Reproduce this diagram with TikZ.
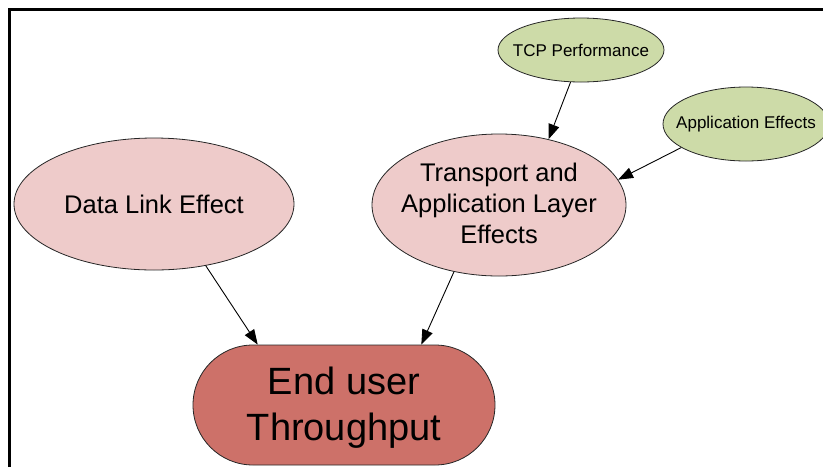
\documentclass[tikz,border=0pt]{standalone}
\usepackage{fontspec}
\setmainfont{Liberation Sans}
\usetikzlibrary{shapes.geometric,arrows.meta}
\definecolor{pinkfill}{HTML}{EECBCA}
\definecolor{greenfill}{HTML}{CDDBA8}
\definecolor{redfill}{HTML}{CD7169}
\tikzset{
  effect/.style={ellipse, draw=black!85, line width=0.8pt, fill=pinkfill, inner sep=0pt},
  cause/.style={ellipse, draw=black!85, line width=0.8pt, fill=greenfill, inner sep=0pt},
  bigtext/.style={align=center, inner sep=0pt, font=\fontsize{25.5}{31}\selectfont},
  smalltext/.style={align=center, inner sep=0pt, font=\fontsize{17}{20}\selectfont},
  hugetext/.style={align=center, inner sep=0pt, font=\fontsize{38}{46}\selectfont},
  result/.style={rectangle, rounded corners=60pt, draw=black!85, line width=0.8pt, fill=redfill, inner sep=0pt},
  link/.style={line width=0.9pt, -{Triangle[length=15pt,width=11pt]}}
}
\begin{document}
\begin{tikzpicture}[x=1pt,y=-1pt]
\useasboundingbox (0,0) rectangle (823,467);
% frame
\draw[line width=3pt] (9.5,467) -- (9.5,9.5) -- (823,9.5);

% shapes are sized directly; their texts sit in centred labels
\node[effect, minimum width=280pt, minimum height=132pt,
      label={[bigtext]center:Data Link Effect}] (dl) at (154,204) {};
\node[effect, minimum width=254pt, minimum height=142pt,
      label={[bigtext, yshift=2pt]center:Transport and\\Application Layer\\Effects}] (tal) at (499,205) {};
\node[cause, minimum width=166pt, minimum height=64pt,
      label={[smalltext]center:TCP Performance}] (tcp) at (581,50) {};
\node[cause, minimum width=166pt, minimum height=74pt,
      label={[smalltext]center:Application Effects}] (app) at (746,124) {};
\node[result, minimum width=302pt, minimum height=120pt,
      label={[hugetext, yshift=-3pt]center:End user\\Throughput}] (end) at (344,405) {};

\draw[link] (dl.-50) -- (end.145.7);
\draw[link] (tal.236.5) -- (end.38.7);
\draw[link] (tcp.252) -- (tal.53.8);
\draw[link] (app.200.6) -- (tal.12.9);
\end{tikzpicture}
\end{document}
